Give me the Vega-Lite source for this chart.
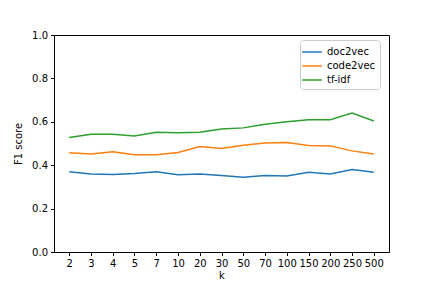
{
  "$schema": "https://vega.github.io/schema/vega-lite/v6.json",
  "autosize": "none",
  "width": 335,
  "height": 217,
  "padding": {"left": 54, "top": 35, "right": 43, "bottom": 36},
  "background": "white",
  "config": {
    "font": "DejaVu Sans",
    "view": {"stroke": "black", "strokeWidth": 1},
    "axis": {
      "grid": false,
      "domainColor": "black",
      "tickColor": "black",
      "tickSize": 3.5,
      "labelFontSize": 10,
      "labelColor": "black",
      "titleFontSize": 10,
      "titleFontWeight": "normal",
      "titleColor": "black",
      "labelPadding": 3
    }
  },
  "data": {
    "values": [
      {"k": "2", "method": "doc2vec", "f1": 0.370},
      {"k": "3", "method": "doc2vec", "f1": 0.360},
      {"k": "4", "method": "doc2vec", "f1": 0.357},
      {"k": "5", "method": "doc2vec", "f1": 0.362},
      {"k": "7", "method": "doc2vec", "f1": 0.370},
      {"k": "10", "method": "doc2vec", "f1": 0.356},
      {"k": "20", "method": "doc2vec", "f1": 0.359},
      {"k": "30", "method": "doc2vec", "f1": 0.353},
      {"k": "50", "method": "doc2vec", "f1": 0.345},
      {"k": "70", "method": "doc2vec", "f1": 0.353},
      {"k": "100", "method": "doc2vec", "f1": 0.350},
      {"k": "150", "method": "doc2vec", "f1": 0.368},
      {"k": "200", "method": "doc2vec", "f1": 0.360},
      {"k": "250", "method": "doc2vec", "f1": 0.380},
      {"k": "500", "method": "doc2vec", "f1": 0.367},
      {"k": "2", "method": "code2vec", "f1": 0.457},
      {"k": "3", "method": "code2vec", "f1": 0.452},
      {"k": "4", "method": "code2vec", "f1": 0.462},
      {"k": "5", "method": "code2vec", "f1": 0.448},
      {"k": "7", "method": "code2vec", "f1": 0.448},
      {"k": "10", "method": "code2vec", "f1": 0.459},
      {"k": "20", "method": "code2vec", "f1": 0.486},
      {"k": "30", "method": "code2vec", "f1": 0.477},
      {"k": "50", "method": "code2vec", "f1": 0.492},
      {"k": "70", "method": "code2vec", "f1": 0.502},
      {"k": "100", "method": "code2vec", "f1": 0.505},
      {"k": "150", "method": "code2vec", "f1": 0.491},
      {"k": "200", "method": "code2vec", "f1": 0.489},
      {"k": "250", "method": "code2vec", "f1": 0.466},
      {"k": "500", "method": "code2vec", "f1": 0.452},
      {"k": "2", "method": "tf-idf", "f1": 0.528},
      {"k": "3", "method": "tf-idf", "f1": 0.543},
      {"k": "4", "method": "tf-idf", "f1": 0.543},
      {"k": "5", "method": "tf-idf", "f1": 0.535},
      {"k": "7", "method": "tf-idf", "f1": 0.552},
      {"k": "10", "method": "tf-idf", "f1": 0.549},
      {"k": "20", "method": "tf-idf", "f1": 0.552},
      {"k": "30", "method": "tf-idf", "f1": 0.567},
      {"k": "50", "method": "tf-idf", "f1": 0.572},
      {"k": "70", "method": "tf-idf", "f1": 0.589},
      {"k": "100", "method": "tf-idf", "f1": 0.600},
      {"k": "150", "method": "tf-idf", "f1": 0.610},
      {"k": "200", "method": "tf-idf", "f1": 0.610},
      {"k": "250", "method": "tf-idf", "f1": 0.640},
      {"k": "500", "method": "tf-idf", "f1": 0.604}
    ]
  },
  "mark": {"type": "line", "strokeWidth": 1.5},
  "encoding": {
    "x": {
      "field": "k",
      "type": "ordinal",
      "sort": ["2","3","4","5","7","10","20","30","50","70","100","150","200","250","500"],
      "scale": {"type": "point", "padding": 0.7},
      "axis": {"title": "k", "labelAngle": 0, "titlePadding": 2}
    },
    "y": {
      "field": "f1",
      "type": "quantitative",
      "scale": {"domain": [0, 1], "nice": false},
      "axis": {"title": "F1 score", "values": [0, 0.2, 0.4, 0.6, 0.8, 1.0], "format": ".1f", "titlePadding": 8}
    },
    "color": {
      "field": "method",
      "type": "nominal",
      "scale": {"domain": ["doc2vec", "code2vec", "tf-idf"], "range": ["#1f77b4", "#ff7f0e", "#2ca02c"]},
      "legend": {
        "title": null,
        "orient": "none",
        "legendX": 246,
        "legendY": 5,
        "symbolType": "M-1.4,0L1.4,0",
        "symbolSize": 196,
        "symbolStrokeWidth": 1.5,
        "symbolFillColor": "transparent",
        "labelFontSize": 10,
        "labelColor": "black",
        "labelOffset": 7,
        "rowPadding": 1,
        "padding": 4,
        "strokeColor": "#cccccc",
        "cornerRadius": 3,
        "fillColor": "white"
      }
    }
  }
}
